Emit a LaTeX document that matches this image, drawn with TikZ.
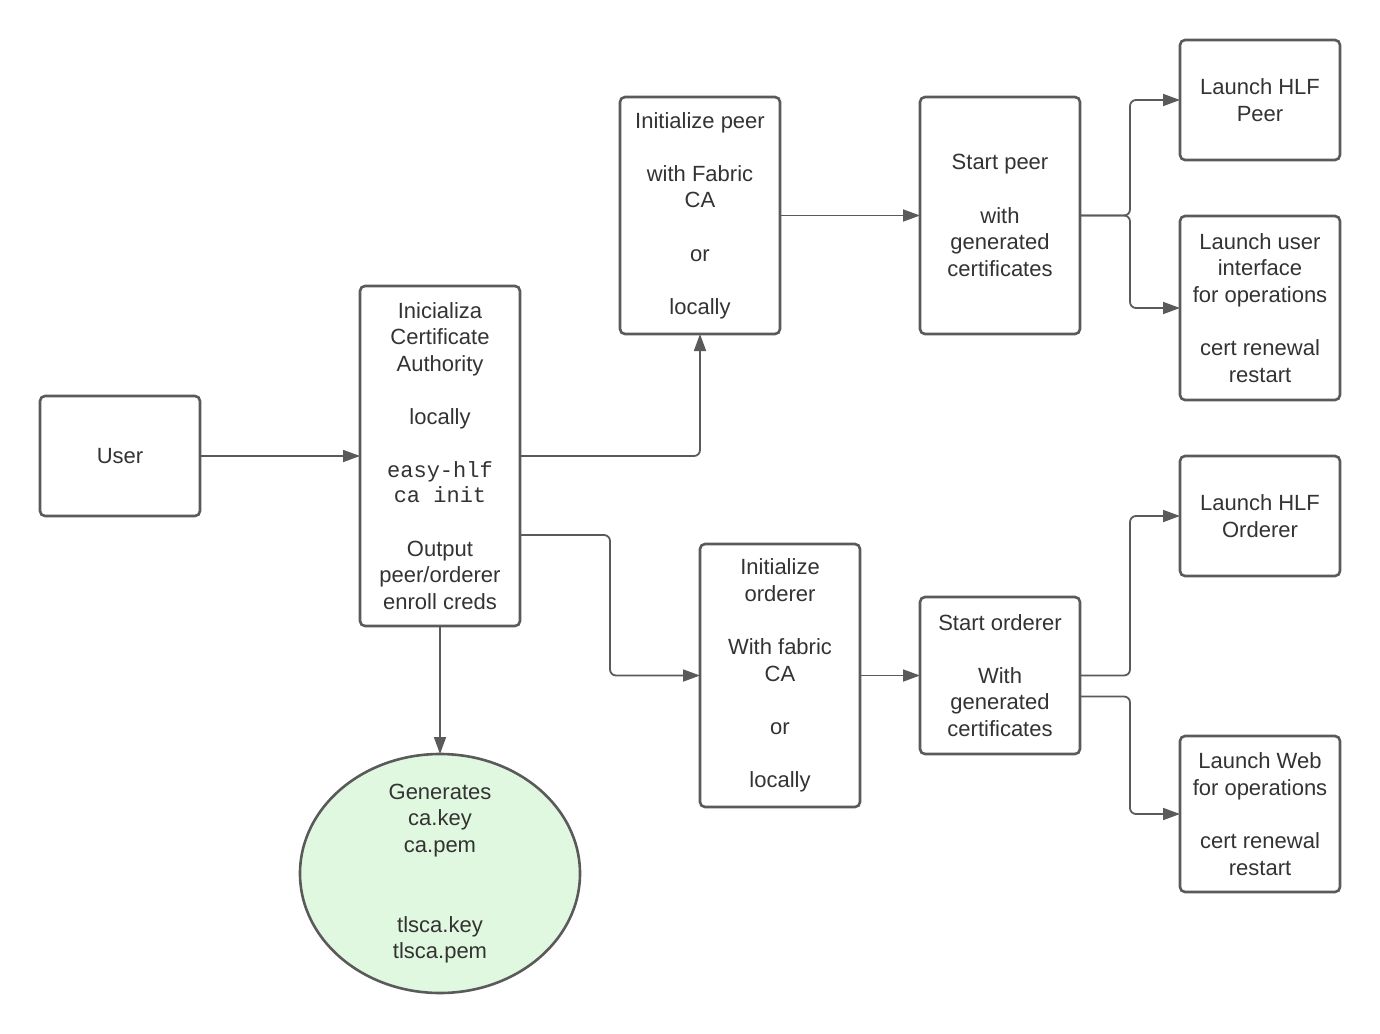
\documentclass[tikz,border=0pt]{standalone}
\usepackage{fontspec}
\setmainfont{Liberation Sans}
\setmonofont{Liberation Mono}
\usetikzlibrary{shapes.geometric,arrows.meta}
\definecolor{linec}{HTML}{5A5A5A}
\definecolor{textc}{HTML}{333333}
\definecolor{greenfill}{HTML}{E1F8E0}
\newcommand\gap{\\[26.6pt]}
\tikzset{
  txt/.style={align=center, text=textc, font=\fontsize{22}{26.6}\selectfont},
  box/.style={txt, draw=linec, line width=2.6pt, rounded corners=5pt, fill=white,
    minimum width=160pt, inner sep=2pt, outer sep=0pt},
  conn/.style={draw=linec, line width=1.8pt, rounded corners=6pt,
    -{Triangle[length=17pt,width=12pt]}},
}
\begin{document}
\begin{tikzpicture}[x=1pt,y=-1pt]
\useasboundingbox (0,0) rectangle (1380,1033);

\node[box, minimum height=120pt] (user) at (120,456) {User};
\node[box, minimum height=340pt] (ca) at (440,456)
  {Inicializa\\Certificate\\Authority\gap locally\gap
   \ttfamily easy-hlf\\[-1.6pt]\ttfamily ca init\gap
   Output\\peer/orderer\\enroll creds};
\node[box, minimum height=237pt] (ipeer) at (700,215.5)
  {Initialize peer\gap with Fabric\\CA\gap or\gap locally};
\node[box, minimum height=237pt] (speer) at (1000,215.5)
  {Start peer\gap with\\generated\\certificates};
\node[box, minimum height=120pt] (lpeer) at (1260,100)
  {Launch HLF\\Peer};
\node[box, minimum height=184pt] (lui) at (1260,308)
  {Launch user\\interface\\for operations\gap cert renewal\\restart};
\node[box, minimum height=120pt] (lord) at (1260,516)
  {Launch HLF\\Orderer};
\node[box, minimum height=156pt] (lweb) at (1260,814)
  {Launch Web\\for operations\gap cert renewal\\restart};
\node[box, minimum height=263pt] (iord) at (780,675.5)
  {Initialize\\orderer\gap With fabric\\CA\gap or\gap locally};
\node[box, minimum height=157pt] (sord) at (1000,675.5)
  {Start orderer\gap With\\generated\\certificates};
\node[draw=linec, line width=2.6pt, shape=ellipse, fill=greenfill, outer sep=0pt,
  minimum width=280pt, minimum height=239pt, inner sep=0pt,
  label={[txt]center:{Generates\\ca.key\\ca.pem\\[53.2pt]tlsca.key\\tlsca.pem}}]
  (gen) at (440,873.5) {};

\draw[conn] (user.east) -- (ca.west);
\draw[conn] (ca.east) -| (ipeer.south);
\draw[conn] ([yshift=-79pt]ca.east) -- ++(90,0) |- (iord.west);
\draw[conn] (ca.south) -- (gen.north);
\draw[conn] (ipeer.east) -- (speer.west);
\draw[conn] (speer.east) -- ++(50,0) |- (lpeer.west);
\draw[conn] (speer.east) -- ++(50,0) |- (lui.west);
\draw[conn] (iord.east) -- (sord.west);
\draw[conn] (sord.east) -- ++(50,0) |- (lord.west);
\draw[conn] ([yshift=-21pt]sord.east) -- ++(50,0) |- (lweb.west);
\end{tikzpicture}
\end{document}
